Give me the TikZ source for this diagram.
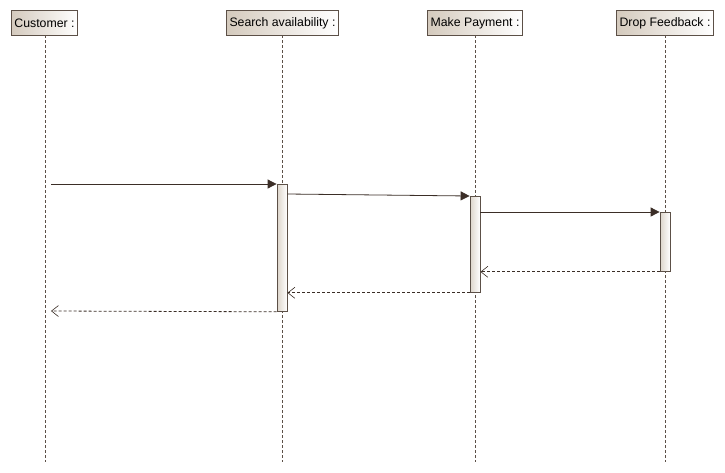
\documentclass[tikz,border=0pt]{standalone}
\usepackage{fontspec}
\setmainfont{Liberation Sans}
\usetikzlibrary{positioning, arrows.meta}
\definecolor{umlline}{RGB}{59,46,39}
\definecolor{umlborder}{RGB}{92,80,71}
\definecolor{umltan}{RGB}{212,202,189}
\tikzset{
x=1pt, y=-1pt, % pixel like units
head/.style={draw=umlborder, thick, left color=umltan, right color=white, inner xsep=3pt, minimum height=25pt, anchor=north, font=\fontsize{12.3}{14}\selectfont}, % lifeline heads
life/.style={draw=umlborder, line width=0.6pt, dash pattern=on 3pt off 2pt}, % lifelines
act/.style={draw=umlborder, thick, left color=umltan!80, right color=white, minimum width=10pt, inner sep=0pt, anchor=north}, % activation bars
call/.style={draw=umlline, thick, -{Triangle[length=9pt, width=9pt]}}, % synchronous messages
reply/.style={draw=umlline, line width=0.8pt, dash pattern=on 3pt off 2pt, -{Straight Barb[length=7pt, width=11pt, line width=0.6pt]}}, % return messages
}
\begin{document}
\begin{tikzpicture}
\useasboundingbox (0,0) rectangle (725,472);
% heads
\node[head] (cust) at (44.5,10) {Customer :};
\node[head] (srch) at (282.5,10) {Search availability :};
\node[head] (pay) at (475,10) {Make Payment :};
\node[head] (drop) at (665,10) {Drop Feedback :};
% lifelines
\foreach \n/\x in {cust/45, srch/282, pay/475, drop/665}
  \draw[life] (\x,35) -- (\x,462);
% activations
\node[act, minimum height=127pt] (actS) at (282,184) {};
\node[act, minimum height=96pt] (actP) at (475,196) {};
\node[act, minimum height=59pt] (actD) at (665,212) {};
\coordinate (c1) at (51,184);
\coordinate (c2) at (51,311);
% messages
\draw[call] (c1) -- (actS.north west);
\draw[call] ([yshift=-10pt]actS.north east) -- (actP.north west);
\draw[call] ([yshift=-16pt]actP.north east) -- (actD.north west);
\draw[reply] (actD.south west) -- (actP.east |- actD.south);
\draw[reply] (actP.south west) -- (actS.east |- actP.south);
\draw[reply] (actS.south west) -- (c2);
\end{tikzpicture}
\end{document}
